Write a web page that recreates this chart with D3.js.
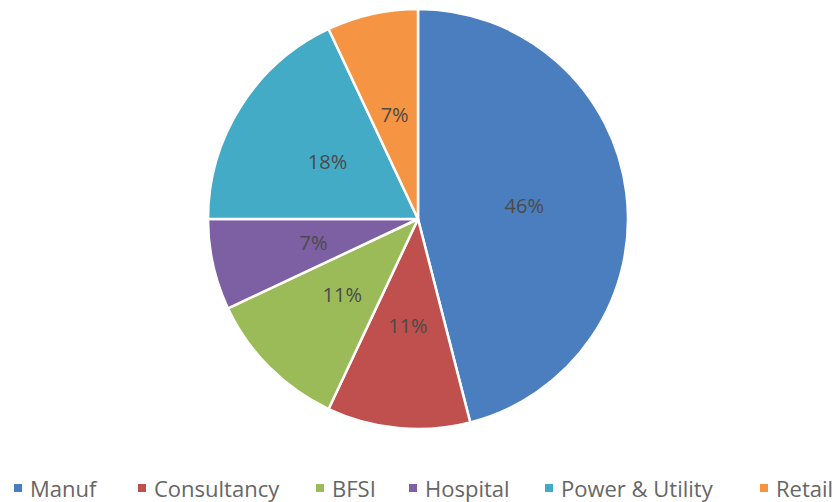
<!DOCTYPE html>
<html>
<head>
<meta charset="utf-8">
<script src="https://cdn.jsdelivr.net/npm/d3@7/dist/d3.min.js"></script>
<style>
  html, body { margin: 0; padding: 0; background: #fff; }
  svg { display: block; }
</style>
</head>
<body>
<svg id="chart" width="840" height="502"></svg>
<script>
// Sector share of the total (%)
const categories = ["Manuf", "Consultancy", "BFSI", "Hospital", "Power & Utility", "Retail"];
const values = [46, 11, 11, 7, 18, 7];
const colors = ["#4a7ebf", "#c0504d", "#9bbb59", "#7d5fa3", "#44abc7", "#f59443"];
// Legend item left edges (marker x) along the bottom row
const legendX = [14, 138, 316, 409, 545, 760];

const svg = d3.select("#chart");
const cx = 418, cy = 219, R = 210;

const data = categories.map((c, i) => ({ name: c, value: values[i], color: colors[i] }));

const pie = d3.pie().value(d => d.value).sort(null);
const arcs = pie(data);

const arc = d3.arc().innerRadius(0).outerRadius(R);
const labelArc = d3.arc().innerRadius(R * 0.51).outerRadius(R * 0.51);

const g = svg.append("g").attr("transform", `translate(${cx},${cy})`);

g.selectAll("path.slice")
  .data(arcs)
  .join("path")
  .attr("class", "slice")
  .attr("d", arc)
  .attr("fill", d => d.data.color)
  .attr("stroke", "#ffffff")
  .attr("stroke-width", 2.5)
  .attr("stroke-linejoin", "round");

const total = d3.sum(values);
g.selectAll("text.pct")
  .data(arcs)
  .join("text")
  .attr("class", "pct")
  .attr("transform", d => `translate(${labelArc.centroid(d)})`)
  .attr("text-anchor", "middle")
  .attr("dominant-baseline", "central")
  .attr("font-family", "'Open Sans', 'DejaVu Sans', sans-serif")
  .attr("font-size", 20)
  .attr("font-weight", 500)
  .attr("fill", "#4a4a4a")
  .text(d => Math.round(d.data.value / total * 100) + "%");

// Legend
const legend = svg.append("g").attr("transform", "translate(0,488)");
const items = legend.selectAll("g.item")
  .data(data)
  .join("g")
  .attr("class", "item")
  .attr("transform", (d, i) => `translate(${legendX[i]},0)`);

items.append("rect")
  .attr("x", 0).attr("y", -4)
  .attr("width", 8).attr("height", 8)
  .attr("fill", d => d.color);

items.append("text")
  .attr("x", 16)
  .attr("y", 0)
  .attr("dominant-baseline", "central")
  .attr("font-family", "'Open Sans', 'DejaVu Sans', sans-serif")
  .attr("font-size", 22)
  .attr("font-weight", 500)
  .attr("fill", "#666666")
  .text(d => d.name);
</script>
</body>
</html>
